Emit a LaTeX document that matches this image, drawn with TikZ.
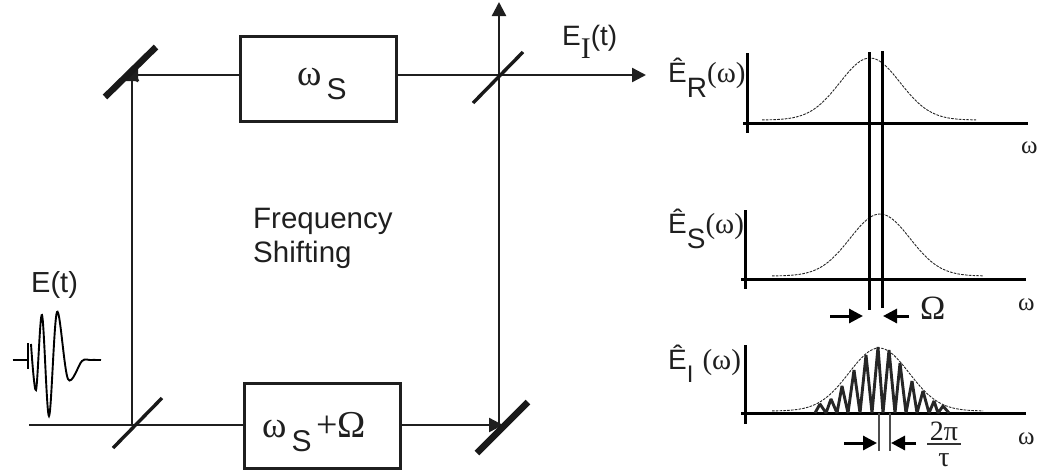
\documentclass[tikz,border=0pt]{standalone}
\usepackage{fontspec}
\setmainfont{Liberation Sans}
\newfontfamily\symfont{Liberation Serif}
\usetikzlibrary{arrows.meta}
\newcommand{\fsize}[1]{\fontsize{#1}{#1}\selectfont}
\newcommand{\lowtext}[2]{\raisebox{-#1pt}{#2}}
\newcommand{\specw}{{\fsize{29}\symfont (ω)}}

\begin{document}
\begin{tikzpicture}[
  x=1pt,y=-1pt,
  >={Triangle[length=14pt,width=14pt]},
  every node/.style={inner sep=0pt,text=black!88},
  box/.style={draw=black!88,line width=3pt,minimum width=156pt,minimum height=85pt},
  beam/.style={draw=black!88,line width=2.4pt},
  mirror/.style={draw=black!90,line width=6.5pt},
  splitter/.style={draw=black!90,line width=3.4pt},
  axis/.style={draw=black,line width=3pt},
  spectrum/.style={draw=black!85,line width=0.9pt,dash pattern=on 2.6pt off 1.2pt},
  marker/.style={->,draw=black,line width=3pt},
  tick/.style={draw=black!70,line width=1.1pt},
  labl/.style={anchor=base west,font=\fsize{29}},
  omeg/.style={anchor=base west,font=\fsize{25}\symfont}
]
\useasboundingbox (0,0) rectangle (1044,475);

% Boxes
\node[box] (boxS)  at (318,78.5) {};
\node[box] (boxSO) at (322,426)  {};

% Interferometer corners
\coordinate (inStart) at (29,425);
\coordinate (bsIn)    at (132,425);
\coordinate (mirTL)   at (132,67);
\coordinate (mirTLin) at (124,75);
\coordinate (mirBR)   at (499,425);
\coordinate (mirBRin) at (503,425);
\coordinate (bsOut)   at (499,75);
\coordinate (outTop)  at (499,2);
\coordinate (outEnd)  at (646,75);

% Beams, under the mirrors
\draw[beam] (inStart) -- (inStart -| boxSO.west);
\draw[beam,->] (bsIn) -- (mirTL);
\draw[beam,->] (mirTLin -| boxS.west) -- (mirTLin);
\draw[beam,->] (mirBRin -| boxSO.east) -- (mirBRin);
\draw[beam,->] (mirBR) -- (outTop);
\draw[beam,->] (outEnd -| boxS.east) -- (outEnd);

% Mirrors and splitters
\draw[mirror] (105,97) -- (156,47);
\draw[mirror] (477,453) -- (528,402);
\draw[splitter] (113,448) -- (162,398);
\draw[splitter] (473,103) -- (523,52);

% Beam labels
\node[labl] (lblS) at (297,85) {{\fsize{37}\symfont ω}\hspace{5pt}\lowtext{14}{\fsize{30}S}};
\node[labl] (lblSO) at (262,437) {{\fsize{37}\symfont ω}\hspace{5pt}\lowtext{14}{\fsize{30}S}\hspace{5pt}{\fsize{38}\symfont +Ω}};
\node[labl,font=\fsize{29.5}] (lblFreq) at (253,228) {Frequency};
\node[labl,font=\fsize{29.5}] (lblShift) at (253,262) {Shifting};
\node[labl] (lblIn) at (31,292) {E(t)};
\node[labl,font=\fsize{28}] (lblOut) at (562,45) {E\lowtext{13}{\fsize{30}\symfont I}(t)};

% Input pulse
\draw[draw=black,line width=1.9pt] (12.5,360) -- (27,360);
\draw[draw=black,line width=2.4pt] (28,343) -- (28,369);
\draw[draw=black,line width=1.9pt] plot[smooth,tension=0.55] coordinates {
  (31,344) (36,390) (42,315) (49,416) (57,312) (68,379) (82,361) (90,360) (101,360)};

% Top spectrum
\draw[axis] (747,53) -- (747,133);
\draw[axis] (743,123) -- (1028,123);
\draw[spectrum] plot[domain=762:976,samples=70] (\x,{120-62*exp(-(\x-870)*(\x-870)/1800)});
\node[labl,font=\fsize{28}] (lblR) at (668,82) {Ê\lowtext{15}{R}\specw};
\node[omeg] (omR) at (1021,153) {ω};

% Middle spectrum
\draw[axis] (745,210) -- (745,289);
\draw[axis] (741,279) -- (1026,279);
\draw[spectrum] plot[domain=772:983,samples=70] (\x,{276-62*exp(-(\x-880)*(\x-880)/1800)});
\node[labl,font=\fsize{28}] (lblSs) at (668,233) {Ê\lowtext{15}{S}\specw};
\node[omeg] (omS) at (1018,310) {ω};

% Bottom spectrum
\draw[axis] (745,345) -- (745,424);
\draw[axis] (741,413) -- (1026,413);
\draw[spectrum] plot[domain=772:983,samples=70] (\x,{411-63*exp(-(\x-879)*(\x-879)/1800)});
\draw[draw=black!85,line width=2.9pt,line join=bevel] plot coordinates {
  (815,413) (820,404) (826,413) (831,399) (837,413) (842,386) (848,413) (854,370)
  (860,413) (866,355) (872,413) (878,347) (883,413) (889,350) (895,413) (900,363)
  (906,413) (912,381) (917,413) (923,391) (929,413) (934,401) (938,413) (943,406) (949,413)};
\node[labl,font=\fsize{28}] (lblI) at (668,369) {Ê\lowtext{13}{\fsize{24}I}\hspace{9pt}\specw};
\node[omeg] (omI) at (1018,444) {ω};

% Shift markers
\draw[axis] (869,52) -- (869,310);
\draw[axis] (882,51) -- (882,308);
\draw[marker] (830,316) -- (863,316);
\draw[marker] (909,316) -- (883,316);
\node[anchor=base west,font=\fsize{34}\symfont] (lblOm) at (920,319) {Ω};

% Spacing markers
\draw[tick] (879,413) -- (879,451);
\draw[tick] (890,413) -- (890,451);
\draw[marker] (844,443) -- (877,443);
\draw[marker] (916,443) -- (891,443);
\node[anchor=base,font=\fsize{28}\symfont] (lblTwoPi) at (944,440) {2π};
\node[anchor=base,font=\fsize{28}\symfont] (lblTau) at (944,466) {τ};
\draw[draw=black!80,line width=1.2pt] (927,444) -- (961,444);

\end{tikzpicture}
\end{document}
